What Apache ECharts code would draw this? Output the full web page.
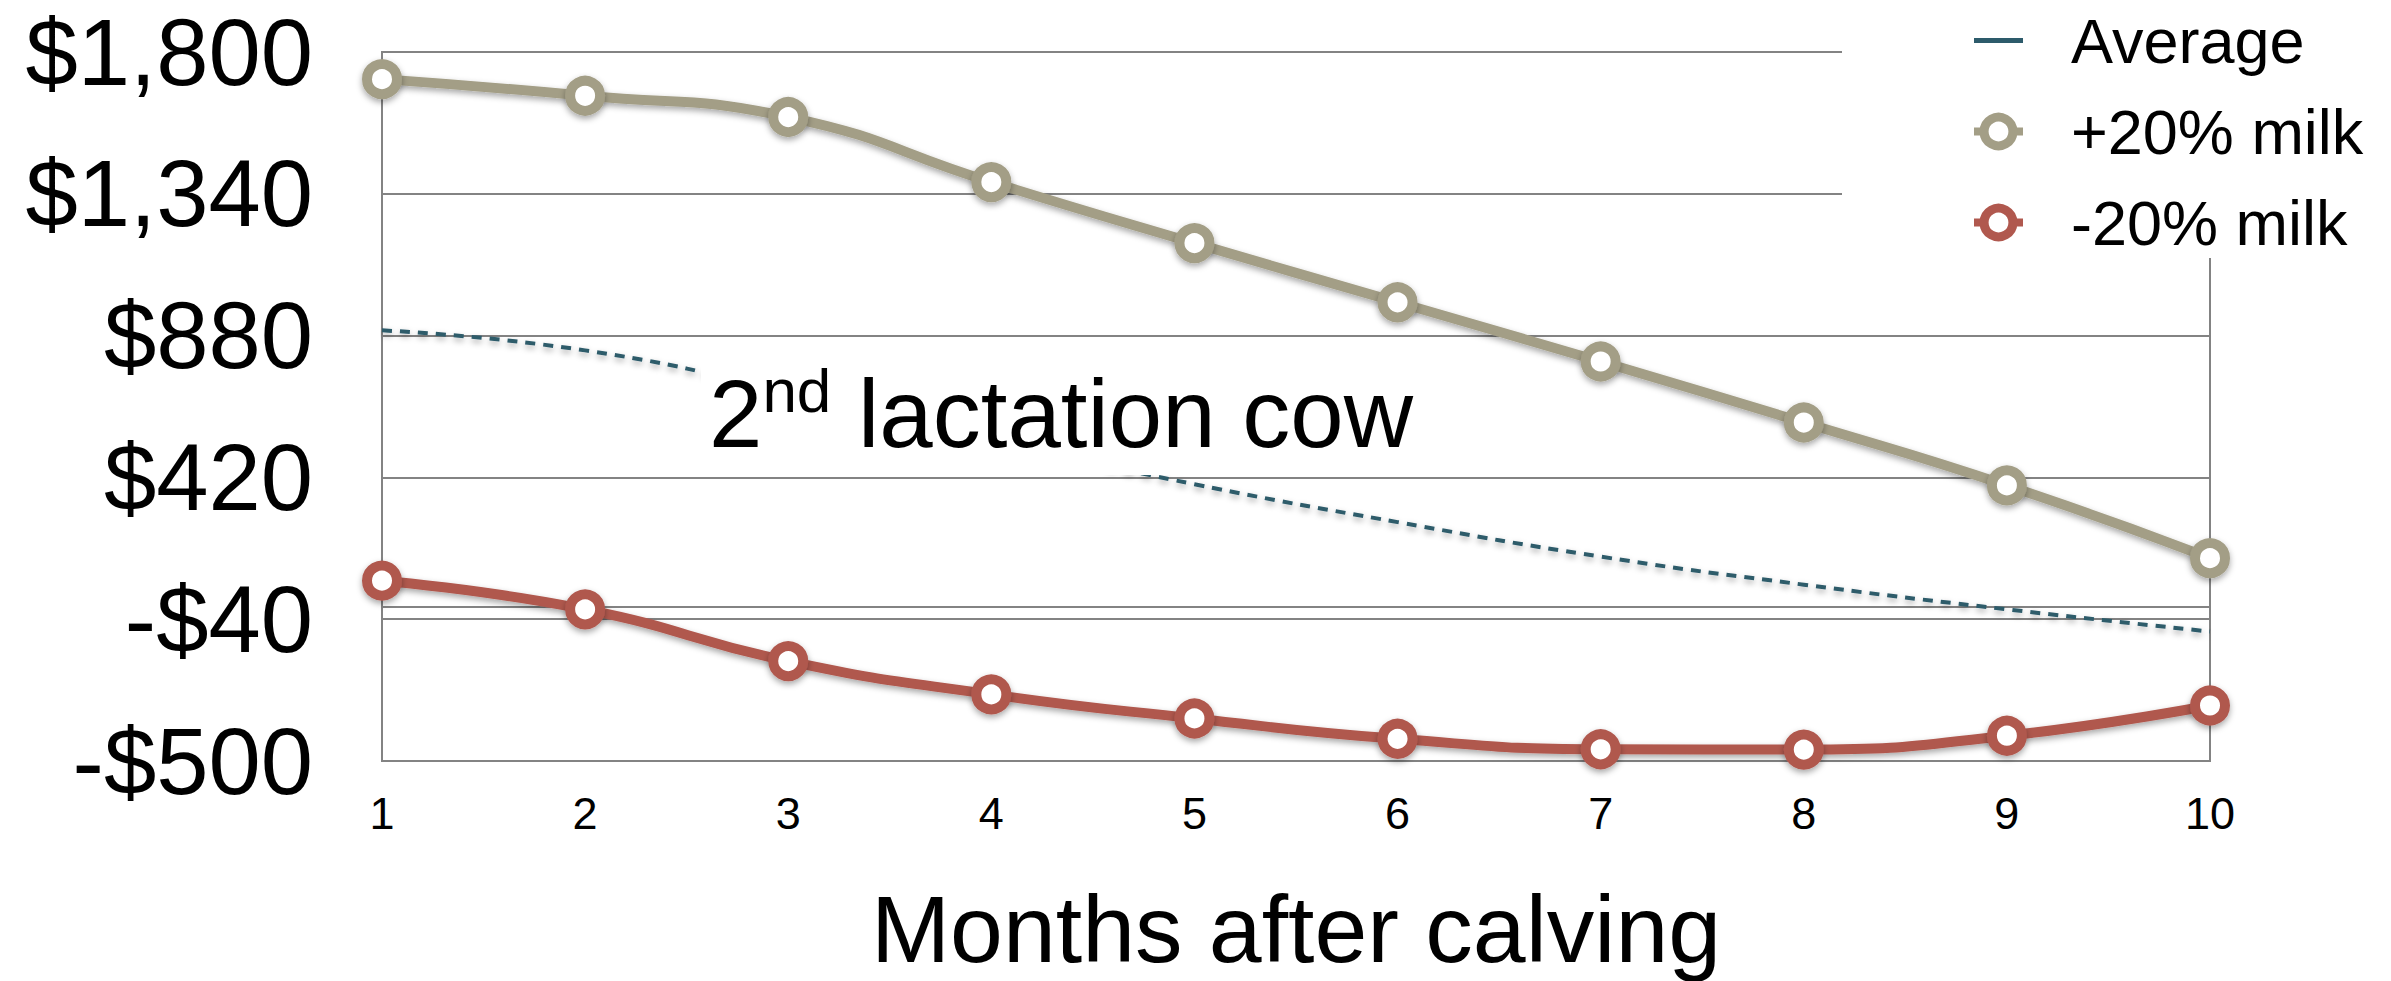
<!DOCTYPE html>
<html>
<head>
<meta charset="utf-8">
<title>2nd lactation cow</title>
<script src="https://cdn.jsdelivr.net/npm/echarts@6/dist/echarts.min.js"></script>
<style>
  html, body { margin: 0; padding: 0; background: #fff; }
  #chart { width: 2391px; height: 981px; }
</style>
</head>
<body>
<div id="chart"></div>
<script>
// months after calving (x axis)
const months = ["1", "2", "3", "4", "5", "6", "7", "8", "9", "10"];
// $ per cow
const average = [897, 832, 697, 540, 398, 275, 163, 72, -8, -80];
const plus20 = [1712, 1658, 1589, 1378, 1180, 988, 796, 598, 394, 158];
const minus20 = [85, -8, -176, -284, -362, -428, -462, -463, -418, -320];
// y axis: -500 .. 1800, a tick every 460
const yMin = -500;
const yMax = 1800;
const yStep = 460;

const FONT = "'Liberation Sans', Arial, Helvetica, sans-serif";
const GRID_COLOR = "#838383";
const TAN = "#a39e86";
const RED = "#b0584e";
const TEAL = "#2d5b6b";

function money(v) {
  let s = String(Math.abs(v)).replace(/\B(?=(\d{3})+(?!\d))/g, ",");
  return (v < 0 ? "-$" : "$") + s;
}

const shadow = {
  shadowColor: "rgba(0,0,0,0.35)",
  shadowBlur: 6,
  shadowOffsetY: 3,
};

let option = {
  backgroundColor: "#fff",
  animation: false,
  textStyle: { fontFamily: FONT },
  // annotation in a white box, drawn over the dashed line
  title: {
    text: "{a|2}{b|nd}{a| lactation cow}",
    left: 701,
    top: 345,
    padding: [14, 12, 14, 8],
    backgroundColor: "#fff",
    textStyle: {
      fontWeight: "normal",
      rich: {
        a: { fontSize: 96, lineHeight: 108, fontFamily: FONT, fontWeight: "normal", color: "#000" },
        b: { fontSize: 62, lineHeight: 82, fontFamily: FONT, fontWeight: "normal", color: "#000", verticalAlign: "top" },
      },
    },
  },
  grid: {
    left: 382,
    right: 181,
    top: 52,
    bottom: 217,
    show: true,
    borderColor: GRID_COLOR,
    borderWidth: 2,
  },
  legend: {
    orient: "vertical",
    left: 1965,
    top: 4,
    itemWidth: 49,
    itemHeight: 36,
    itemGap: 28,
    itemStyle: { borderWidth: 9 },
    lineStyle: { width: 8 },
    textStyle: { fontSize: 63, color: "#000", padding: [0, 0, 0, 43] },
    data: [
      { name: "Average", icon: "path://M0,0L10,0L10,1L0,1Z", itemStyle: { borderWidth: 0 } },
      "+20% milk",
      "-20% milk",
    ],
  },
  xAxis: {
    type: "category",
    data: months,
    boundaryGap: false,
    axisTick: { show: false },
    axisLine: { lineStyle: { color: GRID_COLOR, width: 2 } },
    axisLabel: { fontSize: 45, color: "#000", margin: 30 },
    name: "Months after calving",
    nameLocation: "middle",
    nameGap: 120,
    nameTextStyle: { fontSize: 95, color: "#000" },
  },
  yAxis: {
    type: "value",
    min: yMin,
    max: yMax,
    interval: yStep,
    axisLine: { show: true, lineStyle: { color: GRID_COLOR, width: 2 } },
    axisTick: { show: false },
    splitLine: { lineStyle: { color: GRID_COLOR, width: 2 } },
    axisLabel: { fontSize: 94, color: "#000", margin: 69, formatter: money },
  },
  graphic: [
    {
      // white panel behind the legend, hides the top right of the grid
      type: "rect",
      left: 1842,
      top: 0,
      z: 3,
      silent: true,
      shape: { width: 549, height: 258 },
      style: { fill: "#fff" },
    },
  ],
  series: [
    {
      name: "Average",
      type: "line",
      data: average,
      smooth: true,
      symbol: "none",
      itemStyle: { color: TEAL },
      lineStyle: Object.assign({ color: TEAL, width: 4, type: [10, 8] }, shadow),
      markLine: {
        // zero line
        z: 1,
        silent: true,
        symbol: "none",
        label: { show: false },
        lineStyle: { color: GRID_COLOR, width: 2, type: "solid" },
        data: [{ yAxis: 0 }],
      },
    },
    {
      name: "+20% milk",
      type: "line",
      data: plus20,
      smooth: true,
      symbol: "circle",
      symbolSize: 30,
      itemStyle: Object.assign({ color: "#fff", borderColor: TAN, borderWidth: 10 }, shadow),
      lineStyle: Object.assign({ color: TAN, width: 10 }, shadow),
    },
    {
      name: "-20% milk",
      type: "line",
      data: minus20,
      smooth: true,
      symbol: "circle",
      symbolSize: 30,
      itemStyle: Object.assign({ color: "#fff", borderColor: RED, borderWidth: 10 }, shadow),
      lineStyle: Object.assign({ color: RED, width: 10 }, shadow),
    },
  ],
};

let myChart = echarts.init(document.getElementById("chart"), null, { renderer: "svg" });
myChart.setOption(option);
</script>
</body>
</html>
